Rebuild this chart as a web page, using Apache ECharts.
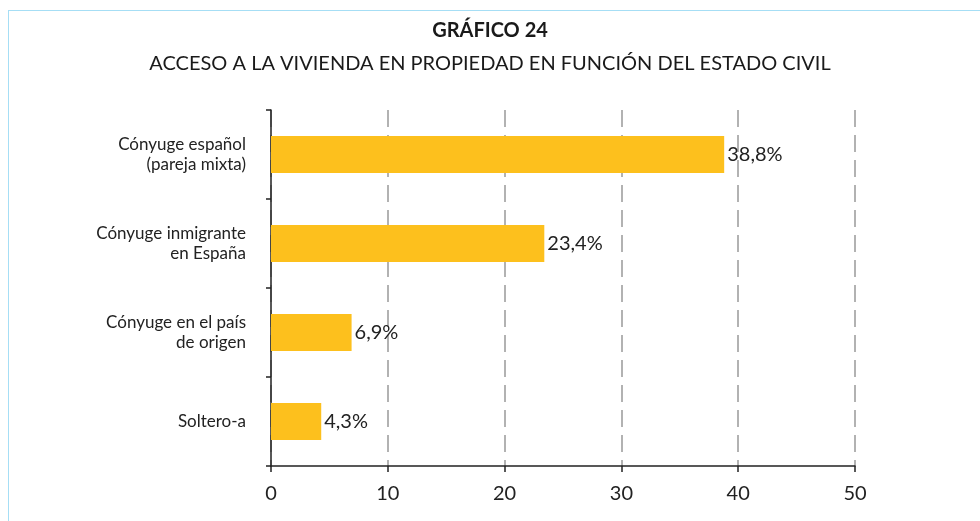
<!DOCTYPE html>
<html>
<head>
<meta charset="utf-8">
<script src="https://cdn.jsdelivr.net/npm/echarts@6/dist/echarts.min.js"></script>
<style>
  html, body { margin: 0; padding: 0; background: #fff; }
  #frame { position: absolute; left: 8px; top: 10px; width: 1000px; height: 600px; border: 1px solid #a6def5; }
  #main { position: absolute; left: 0; top: 0; width: 980px; height: 521px; }
</style>
</head>
<body>
<div id="frame"></div>
<div id="main"></div>
<script>
// categories from top to bottom
const categories = ['Cónyuge español\n(pareja mixta)', 'Cónyuge inmigrante\nen España', 'Cónyuge en el país\nde origen', 'Soltero-a'];
const values = [38.8, 23.4, 6.9, 4.3];
const xTicks = [0, 10, 20, 30, 40, 50];

const chart = echarts.init(document.getElementById('main'));

const font = 'Lato, "Open Sans", sans-serif';

const option = {
  backgroundColor: 'transparent',
  animation: false,
  title: [{
    text: 'GRÁFICO 24',
    left: 'center',
    top: 16,
    textStyle: { fontFamily: font, fontSize: 20, fontWeight: 'bold', color: '#1a1a1a' }
  }, {
    text: 'ACCESO A LA VIVIENDA EN PROPIEDAD EN FUNCIÓN DEL ESTADO CIVIL',
    left: 'center',
    top: 49,
    textStyle: { fontFamily: font, fontSize: 20, fontWeight: 'normal', color: '#1a1a1a' }
  }],
  grid: { left: 271, right: 125, top: 110, bottom: 55 },
  xAxis: {
    type: 'value',
    min: xTicks[0],
    max: xTicks[xTicks.length - 1],
    interval: 10,
    axisLine: { show: true, lineStyle: { color: '#222', width: 1.5 } },
    axisTick: { show: true, length: 6, lineStyle: { color: '#222', width: 1.5 } },
    axisLabel: { color: '#222', fontFamily: font, fontSize: 20, margin: 18 },
    splitLine: {
      show: true,
      lineStyle: { color: '#999', width: 1.5, type: [17, 8] }
    }
  },
  yAxis: {
    type: 'category',
    inverse: true,
    data: categories,
    axisLine: { show: true, lineStyle: { color: '#222', width: 1.5 } },
    axisTick: { show: true, length: 5, lineStyle: { color: '#222', width: 1.5 } },
    axisLabel: {
      color: '#222', fontFamily: font, fontSize: 17, margin: 25,
      lineHeight: 20, align: 'right'
    },
    splitLine: { show: false }
  },
  series: [{
    type: 'bar',
    data: values,
    barWidth: 37,
    itemStyle: { color: '#fdc01d' },
    label: {
      show: true,
      position: 'right',
      distance: 3,
      color: '#222',
      fontFamily: font,
      fontSize: 20,
      formatter: p => p.value.toFixed(1).replace('.', ',') + '%'
    }
  }]
};

chart.setOption(option);
</script>
</body>
</html>
